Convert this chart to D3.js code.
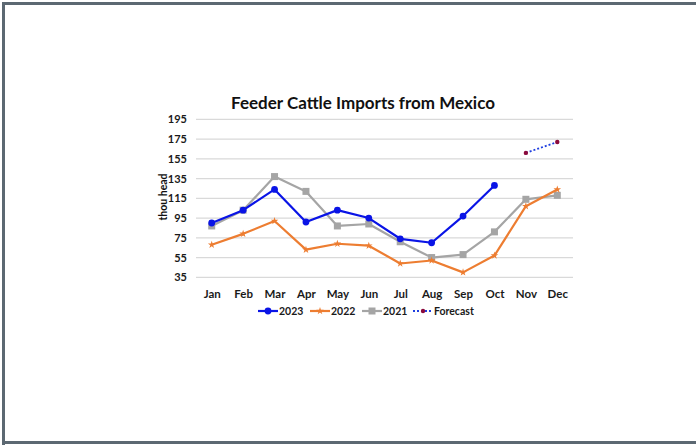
<!DOCTYPE html>
<html>
<head>
<meta charset="utf-8">
<script src="https://cdn.jsdelivr.net/npm/d3@7"></script>
<style>
  html, body { margin: 0; padding: 0; background: #fff; }
  svg { display: block; }
  text { font-family: Lato, "Open Sans", sans-serif; }
</style>
</head>
<body>
<svg id="chart" width="696" height="445"></svg>
<script>
// Monthly feeder cattle imports from Mexico (thousand head)
const months = ["Jan","Feb","Mar","Apr","May","Jun","Jul","Aug","Sep","Oct","Nov","Dec"];
const yTicks = [35, 55, 75, 95, 115, 135, 155, 175, 195];
const values2023 = [90, 103, 124, 91, 103, 95, 74, 70, 97, 128, null, null];
const values2022 = [68, 79, 92, 63, 69, 67, 49, 52, 40, 57, 107, 124];
const values2021 = [87, 103, 137, 122, 87, 89, 71, 55, 58, 81, 114, 118];
const forecast   = [null, null, null, null, null, null, null, null, null, null, 161, 172];

const svg = d3.select("#chart");

// outer frame (left, top, bottom edges)
svg.append("path")
  .attr("d", "M3.5,445 V3.5 H696 M3.5,442.5 H696")
  .attr("fill", "none").attr("stroke", "#5c6872").attr("stroke-width", 3);

const x = d3.scalePoint().domain(months).range([196, 573]).padding(0.5);
const y = d3.scaleLinear().domain([35, 195]).range([277.3, 119.3]);

// horizontal gridlines
svg.append("g").selectAll("line").data(yTicks).join("line")
  .attr("x1", 196).attr("x2", 573)
  .attr("y1", d => y(d)).attr("y2", d => y(d))
  .attr("stroke", "#d9d9d9").attr("stroke-width", 1.3);

// y axis labels
const yAxis = svg.append("g").attr("transform", "translate(187,0)")
  .call(d3.axisLeft(y).tickValues(yTicks).tickSize(0).tickPadding(0));
yAxis.select(".domain").remove();
yAxis.selectAll("text")
  .attr("font-family", "Lato, sans-serif").attr("font-size", 11)
  .attr("font-weight", "bold").attr("fill", "#1a1a1a");

// x axis labels
const xAxis = svg.append("g").attr("transform", "translate(0,290)")
  .call(d3.axisBottom(x).tickSize(0).tickPadding(0));
xAxis.select(".domain").remove();
xAxis.selectAll("text")
  .attr("font-family", "Lato, sans-serif").attr("font-size", 11.5)
  .attr("font-weight", "bold").attr("fill", "#1a1a1a");

// title
svg.append("text")
  .attr("x", 363).attr("y", 109)
  .attr("text-anchor", "middle")
  .attr("font-size", 17).attr("font-weight", "bold").attr("fill", "#111")
  .text("Feeder Cattle Imports from Mexico");

// y axis title
svg.append("text")
  .attr("transform", "translate(167,197) rotate(-90)")
  .attr("text-anchor", "middle")
  .attr("font-size", 10.5).attr("font-weight", "bold").attr("fill", "#111")
  .text("thou head");

const line = d3.line()
  .defined(d => d != null)
  .x((d, i) => x(months[i]))
  .y(d => y(d));

const series = [
  { name: "2021", data: values2021, color: "#a5a5a5", marker: "square", dash: null },
  { name: "2022", data: values2022, color: "#ed7d31", marker: "star", dash: null },
  { name: "2023", data: values2023, color: "#0a14e6", marker: "circle", dash: null },
  { name: "Forecast", data: forecast, color: "#1f3fe0", marker: "dot", dash: "2,2" }
];

function drawMarker(g, type, cx, cy) {
  if (type === "square") {
    g.append("rect").attr("x", cx - 3.5).attr("y", cy - 3.5)
      .attr("width", 7).attr("height", 7).attr("fill", "#a5a5a5");
  } else if (type === "circle") {
    g.append("circle").attr("cx", cx).attr("cy", cy).attr("r", 3.4).attr("fill", "#0a14e6");
  } else if (type === "star") {
    g.append("path")
      .attr("d", d3.symbol(d3.symbolStar, 18)())
      .attr("transform", `translate(${cx},${cy})`)
      .attr("fill", "#ed7d31");
  } else if (type === "dot") {
    g.append("circle").attr("cx", cx).attr("cy", cy).attr("r", 2.2).attr("fill", "#8b0a3c");
  }
}

series.forEach(s => {
  const g = svg.append("g");
  g.append("path")
    .datum(s.data)
    .attr("d", line)
    .attr("fill", "none")
    .attr("stroke", s.color)
    .attr("stroke-width", s.dash ? 1.8 : 2.2)
    .attr("stroke-dasharray", s.dash)
    .attr("stroke-linejoin", "round");
  s.data.forEach((d, i) => {
    if (d != null) drawMarker(g, s.marker, x(months[i]), y(d));
  });
});

// legend
const legendItems = [
  { name: "2023", color: "#0a14e6", marker: "circle", dash: null, x0: 258 },
  { name: "2022", color: "#ed7d31", marker: "star", dash: null, x0: 310 },
  { name: "2021", color: "#a5a5a5", marker: "square", dash: null, x0: 362 },
  { name: "Forecast", color: "#1f3fe0", marker: "dot", dash: "2,2", x0: 413 }
];
const ly = 311;
legendItems.forEach(it => {
  const g = svg.append("g");
  g.append("line").attr("x1", it.x0).attr("x2", it.x0 + 20)
    .attr("y1", ly).attr("y2", ly)
    .attr("stroke", it.color).attr("stroke-width", it.dash ? 1.8 : 2.2)
    .attr("stroke-dasharray", it.dash);
  drawMarker(g, it.marker, it.x0 + 10, ly);
  g.append("text").attr("x", it.x0 + 21).attr("y", ly + 4)
    .attr("font-size", 10.5).attr("font-weight", "bold").attr("fill", "#1a1a1a")
    .text(it.name);
});
</script>
</body>
</html>
